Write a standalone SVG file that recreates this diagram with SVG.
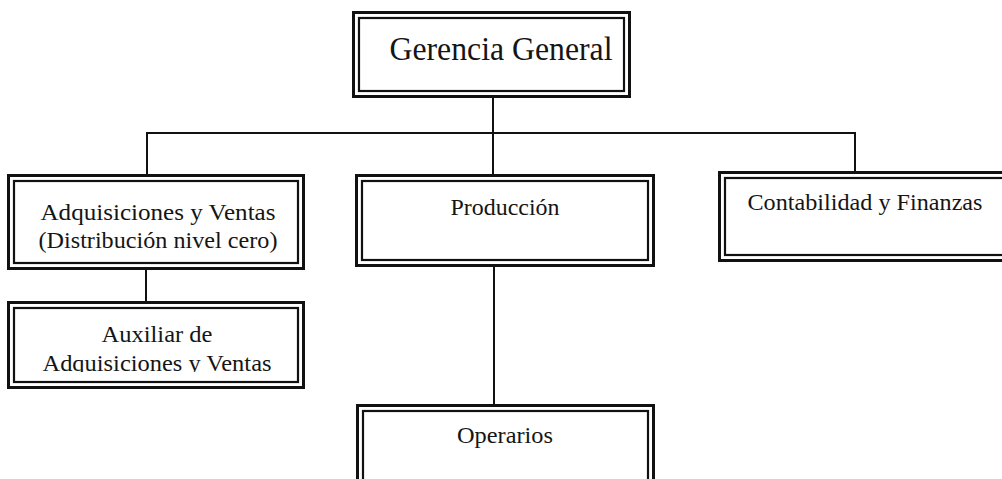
<svg xmlns="http://www.w3.org/2000/svg" width="1002" height="479" viewBox="0 0 1002 479">
  <style>
    .outer { fill: #fff; stroke: #111; stroke-width: 3; }
    .inner { fill: none; stroke: #111; stroke-width: 2.2; }
    .lbl { font-family: "Liberation Serif", "Times New Roman", serif; fill: #151515; text-anchor: middle; }
    .link { fill: none; stroke: #111; stroke-width: 2; }
  </style>
  <defs>
    <clipPath id="auxClip">
      <rect x="14" y="308" width="283" height="64"/>
    </clipPath>
  </defs>
  <rect width="1002" height="479" fill="#fff"/>

  <!-- connectors -->
  <g id="connectors">
    <line class="link" x1="493" y1="97" x2="493" y2="176"/>
    <polyline class="link" points="147,177 147,133 855,133 855,172"/>
    <line class="link" x1="146" y1="268" x2="146" y2="303"/>
    <line class="link" x1="494" y1="265" x2="494" y2="405"/>
  </g>

  <!-- Gerencia General -->
  <g id="gerencia">
    <rect class="outer" x="353.5" y="12.5" width="276" height="84"/>
    <rect class="inner" x="359" y="18" width="265" height="73"/>
    <text class="lbl" x="501" y="60" font-size="33" textLength="223" lengthAdjust="spacingAndGlyphs">Gerencia General</text>
  </g>

  <!-- Adquisiciones y Ventas -->
  <g id="adquisiciones">
    <rect class="outer" x="8.5" y="175.5" width="295" height="93"/>
    <rect class="inner" x="14" y="181" width="284" height="82"/>
    <text class="lbl" x="158" y="220" font-size="23" textLength="235" lengthAdjust="spacingAndGlyphs">Adquisiciones y  Ventas</text>
    <text class="lbl" x="158" y="248" font-size="23" textLength="239" lengthAdjust="spacingAndGlyphs">(Distribución nivel cero)</text>
  </g>

  <!-- Producción -->
  <g id="produccion">
    <rect class="outer" x="356.5" y="175.5" width="297" height="90"/>
    <rect class="inner" x="362" y="181" width="286" height="79"/>
    <text class="lbl" x="505" y="215" font-size="23" textLength="109" lengthAdjust="spacingAndGlyphs">Producción</text>
  </g>

  <!-- Contabilidad y Finanzas -->
  <g id="contabilidad">
    <rect class="outer" x="719.5" y="172.5" width="300" height="88"/>
    <rect class="inner" x="725" y="178" width="290" height="77"/>
    <text class="lbl" x="865" y="210" font-size="23" textLength="235" lengthAdjust="spacingAndGlyphs">Contabilidad  y Finanzas</text>
  </g>

  <!-- Auxiliar de Adquisiciones y Ventas -->
  <g id="auxiliar">
    <rect class="outer" x="8.5" y="302.5" width="295" height="85"/>
    <rect class="inner" x="14" y="308" width="284" height="74"/>
    <text class="lbl" x="157" y="342" font-size="23" textLength="111" lengthAdjust="spacingAndGlyphs">Auxiliar  de</text>
    <text class="lbl" x="157" y="371" font-size="23" textLength="229" lengthAdjust="spacingAndGlyphs" clip-path="url(#auxClip)">Adquisiciones y Ventas</text>
  </g>

  <!-- Operarios -->
  <g id="operarios">
    <rect class="outer" x="357.5" y="405.5" width="296" height="90"/>
    <rect class="inner" x="363" y="411" width="285" height="80"/>
    <text class="lbl" x="505" y="443" font-size="23" textLength="96" lengthAdjust="spacingAndGlyphs">Operarios</text>
  </g>
</svg>
